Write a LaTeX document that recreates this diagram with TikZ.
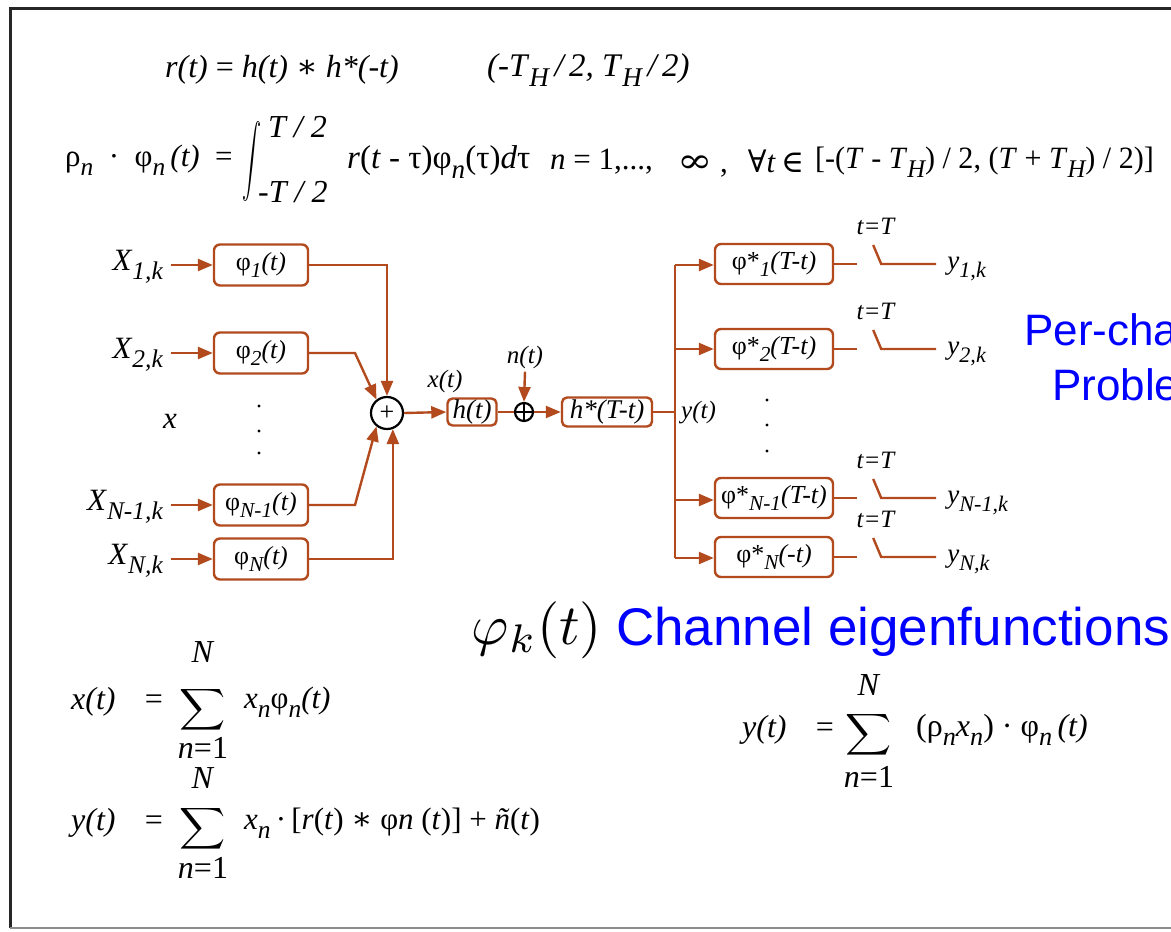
\documentclass[tikz,border=0pt]{standalone}
\usepackage{fontspec}
\usepackage{graphicx}
\setmainfont{Liberation Serif}
\newfontfamily\arialf{Liberation Sans}
\newfontfamily\dvs{DejaVu Serif}
\usetikzlibrary{arrows.meta,calc}
\definecolor{rust}{RGB}{178,74,30}
\definecolor{pblue}{RGB}{0,0,255}
\newcommand\fsz[1]{\fontsize{#1}{#1}\selectfont}
\newcommand\sbs[1]{\raisebox{-0.28em}{\scalebox{0.82}{\itshape #1}}}
\begin{document}
\begin{tikzpicture}[x=1pt,y=-1pt,
  wire/.style={draw=rust, line width=2.4pt},
  arr/.style={draw=rust, line width=2.4pt, -{Triangle[length=15pt,width=12pt]}},
  fbox/.style={draw=rust, line width=2.4pt, rounded corners=6pt, inner sep=0pt,
     minimum width=94pt, minimum height=41pt, font=\fsz{26}},
  rbox/.style={fbox, minimum width=118pt, minimum height=40pt},
  lab/.style={inner sep=0pt, font=\fsz{31}},
  small/.style={inner sep=0pt, font=\fsz{25}},
  eq/.style={inner sep=0pt, font=\fsz{32}, anchor=west},
  bigsum/.style={inner sep=0pt, font=\fsz{10}},
  bluet/.style={inner sep=0pt, text=pblue, anchor=west}
]
\useasboundingbox (0,0) rectangle (1171,932);
\clip (0,0) rectangle (1171,932);
% frame
\draw[line width=3pt, black!85] (1175,8) -- (10,8) -- (10,928);
\draw[line width=1.5pt, black!45] (10,928) -- (1175,928);

% top equations
\node[eq, font=\fsz{32}] (e1) at (165,70) {\textit{r(t)} = \textit{h(t)} {\dvs ∗} \textit{h*(-t)}};
\node[eq, font=\fsz{33}] (e1b) at (487,70) {\textit{(-T}\sbs{H}\textit{\,/\,2, T}\sbs{H}\textit{\,/\,2)}};
\node[eq, font=\fsz{31}] (e2a) at (65,160) {ρ\sbs{n}\enspace·\enspace φ\sbs{n}\,\textit{(t)}\enspace=};
\node[inner sep=0pt, font=\fsz{10}] (int) at (252,161) {\scalebox{1.9}[3.6]{$\displaystyle\int$}};
\node[eq, font=\fsz{32}] (lim1) at (268,127) {\textit{T / 2}};
\node[eq, font=\fsz{32}] (lim2) at (258,192) {\textit{-T / 2}};
\node[eq, font=\fsz{33}] (e2b) at (347,162) {\textit{r}(\textit{t} - τ)φ\sbs{n}(τ)\textit{d}τ};
\node[eq, font=\fsz{31}] (e2c) at (550,162) {\textit{n} = 1,...,};
\node[eq, font=\fsz{34}] (e2d) at (677,164) {\scalebox{1.25}[1]{\dvs ∞}};
\node[eq, font=\fsz{31}, anchor=base west] (e2f) at (720,172) {,\hspace{20pt}{\dvs ∀}\textit{t}\,{\dvs ∈}};
\node[eq, font=\fsz{31}] (e2g) at (815,162) {\scalebox{0.97}[1]{[-(\textit{T} - \textit{T}\sbs{H}) / 2, (\textit{T} + \textit{T}\sbs{H}) / 2)]}};

% left inputs and filters
\node[lab, anchor=east] (X1) at (163,267) {\textit{X}\sbs{1,k}};
\node[lab, anchor=east] (X2) at (163,355) {\textit{X}\sbs{2,k}};
\node[lab] (xx) at (170,421) {\textit{x}};
\node[lab, anchor=east] (X3) at (163,507) {\textit{X}\sbs{N-1,k}};
\node[lab, anchor=east] (X4) at (163,561) {\textit{X}\sbs{N,k}};

\node[fbox] (p1) at (261,265) {φ\sbs{1}\textit{(t)}};
\node[fbox] (p2) at (261,353) {φ\sbs{2}\textit{(t)}};
\node[fbox] (p3) at (261,505) {φ\sbs{N-1}\textit{(t)}};
\node[fbox] (p4) at (261,559) {φ\sbs{N}\textit{(t)}};
\foreach \yy in {406,431,453} \fill (259,\yy) circle (1.6pt);

\draw[arr] (X1.east) ++(8,-2) -- (p1.west);
\draw[arr] (X2.east) ++(8,-2) -- (p2.west);
\draw[arr] (X3.east) ++(8,-2) -- (p3.west);
\draw[arr] (X4.east) ++(8,-2) -- (p4.west);

\node[circle, draw, line width=2.2pt, minimum size=32pt, inner sep=0pt, font=\fsz{26}] (sum) at (387,413) {+};
\draw[arr] (p1.east) -| (sum.north);
\draw[arr] (p2.east) -- (355,353) -- (sum.128);
\draw[arr] (p3.east) -- (355,505) -- (sum.232);
\draw[arr] (p4.east) -| (sum.-70);

% channel
\node[draw=rust, line width=2.4pt, rounded corners=5pt, inner sep=0pt, minimum width=49pt, minimum height=27pt, font=\fsz{27}] (h) at (472,412) {\textit{h(t)}};
\node[small] (xt) at (445,381) {\textit{x(t)}};
\node[circle, draw, line width=2.2pt, minimum size=18pt, inner sep=0pt] (nz) at (524,412) {};
\draw[line width=2pt] (nz.north) -- (nz.south) (nz.west) -- (nz.east);
\node[small] (nt) at (525,357) {\textit{n(t)}};
\node[draw=rust, line width=2.4pt, rounded corners=5pt, inner sep=0pt, minimum width=90pt, minimum height=29pt, font=\fsz{27}] (hs) at (607,412) {\textit{h*(T-t)}};
\node[small, anchor=west] (yt) at (681,413) {\textit{y(t)}};
\draw[arr] (sum.east) -- (h.west);
\draw[wire] (h.east) -- (nz.west);
\draw[arr] (nt.south) ++(0,3) -- (nz.north);
\draw[arr] (nz.east) -- (hs.west);
\coordinate (bus) at (675,412);
\draw[wire] (hs.east) -- (bus);

% matched filters
\node[rbox] (q1) at (774,264) {φ*\sbs{1}\textit{(T-t)}};
\node[rbox] (q2) at (774,349) {φ*\sbs{2}\textit{(T-t)}};
\node[rbox] (q3) at (774,498) {φ*\sbs{N-1}\textit{(T-t)}};
\node[rbox] (q4) at (774,557) {φ*\sbs{N}\textit{(-t)}};
\foreach \yy in {400,425,451} \fill (767,\yy) circle (1.6pt);
\coordinate (busT) at (675,265);
\coordinate (busB) at (675,558);
\draw[wire] (busT) -- (busB);
\draw[arr] (busT) -- (q1.west |- busT);
\draw[arr] (q2.west -| bus) -- (q2.west);
\draw[arr] ($(q3.west -| bus)+(0,2)$) -- ($(q3.west)+(0,2)$);
\draw[arr] (busB) -- (q4.west |- busB);

% samplers
\foreach \q/\lbl in {q1/{1,k}, q2/{2,k}, q3/{N-1,k}, q4/{N,k}} {
  \draw[wire] (\q.east) -- ++(23,0);
  \draw[wire] ($(\q.east)+(39,-19)$) -- ($(\q.east)+(47,0)$) -- ($(\q.east)+(102,0)$);
  \node[small] (tT\q) at ($(\q.east)+(42,-38)$) {\textit{t=T}};
  \node[small, anchor=west, font=\fsz{27}] (y\q) at ($(\q.east)+(113,5)$) {\textit{y}\sbs{\lbl}};
}

% blue texts
\node[bluet, font=\arialf\fsz{44}] (pc) at (1024,330) {Per-channel};
\node[bluet, font=\arialf\fsz{44}] (pb) at (1052,385) {Problem};
\node[inner sep=0pt, font=\fsz{10}] (phk) at (537,630) {\scalebox{5.7}{$\varphi_k(t)$}};
\node[bluet, font=\arialf\fsz{53}] (ce) at (616,632) {Channel eigenfunctions};

% bottom equations
\node[eq] (bx) at (71,702) {\textit{x(t)}\enspace\, =};
\node[bigsum] (s1) at (203,710) {\scalebox{3.2}[2.9]{$\displaystyle\sum$}};
\node[eq, anchor=center] (s1N) at (203,652) {\textit{N}};
\node[eq, anchor=center] (s1n) at (203,748) {\textit{n}=1};
\node[eq, font=\fsz{31}] (bx2) at (244,702) {\textit{x}\sbs{n}φ\sbs{n}\textit{(t)}};

\node[eq] (by) at (71,823) {\textit{y(t)}\enspace\, =};
\node[bigsum] (s2) at (203,829) {\scalebox{3.2}[2.9]{$\displaystyle\sum$}};
\node[eq, anchor=center] (s2N) at (203,778) {\textit{N}};
\node[eq, anchor=center] (s2n) at (203,868) {\textit{n}=1};
\node[eq, font=\fsz{31}] (by2) at (244,823) {\textit{x}\sbs{n}\,·\,[\textit{r}(\textit{t}) {\dvs ∗} φ\textit{n} (\textit{t})] + \textit{ñ}(\textit{t})};

\node[eq] (ry) at (742,730) {\textit{y(t)}\enspace\, =};
\node[bigsum] (s3) at (869,735) {\scalebox{3.2}[2.9]{$\displaystyle\sum$}};
\node[eq, anchor=center] (s3N) at (869,685) {\textit{N}};
\node[eq, anchor=center] (s3n) at (869,777) {\textit{n}=1};
\node[eq] (ry2) at (916,730) {(ρ\sbs{n}\textit{x}\sbs{n}) · φ\sbs{n}\,\textit{(t)}};
\end{tikzpicture}
\end{document}
